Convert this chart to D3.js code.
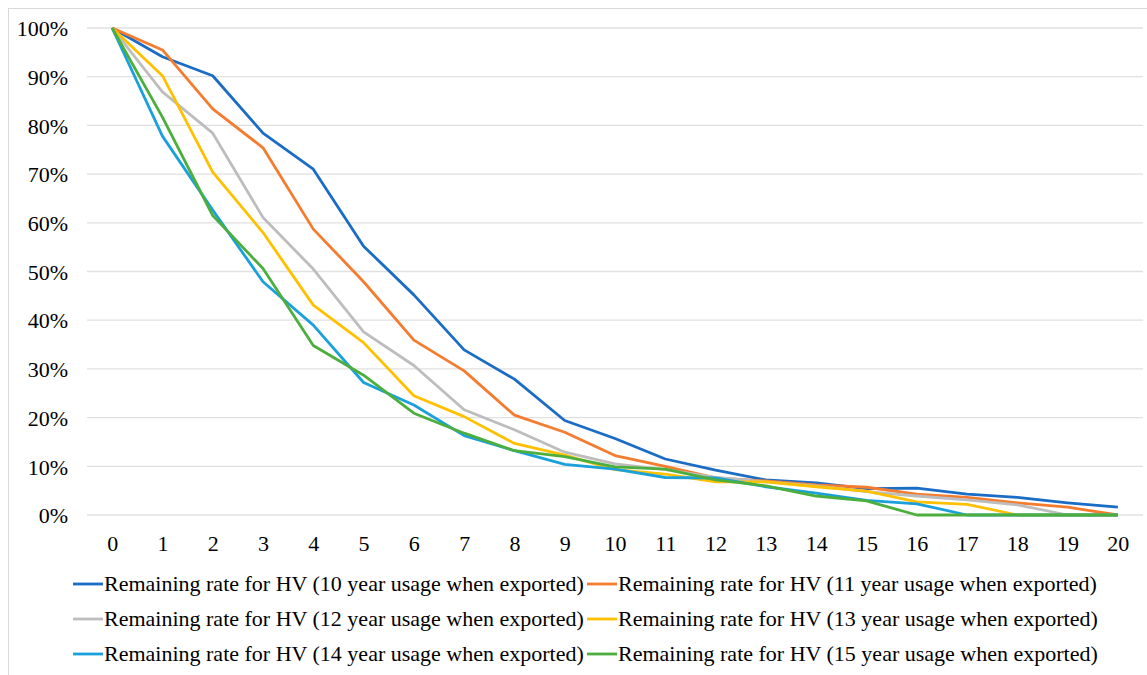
<!DOCTYPE html>
<html>
<head>
<meta charset="utf-8">
<script src="https://cdn.jsdelivr.net/npm/d3@7"></script>
<style>
  html, body { margin: 0; padding: 0; background: #fff; }
  svg { display: block; }
</style>
</head>
<body>
<svg id="chart" width="1147" height="675"></svg>
<script>
const years = d3.range(0, 21).map(String);
const yTicks = [0, 0.1, 0.2, 0.3, 0.4, 0.5, 0.6, 0.7, 0.8, 0.9, 1.0];
const seriesNames = [
  "Remaining rate for HV (10 year usage when exported)",
  "Remaining rate for HV (11 year usage when exported)",
  "Remaining rate for HV (12 year usage when exported)",
  "Remaining rate for HV (13 year usage when exported)",
  "Remaining rate for HV (14 year usage when exported)",
  "Remaining rate for HV (15 year usage when exported)"
];
const hv10 = [100, 94.1, 90.2, 78.4, 71.0, 55.2, 45.2, 33.9, 27.9, 19.4, 15.7, 11.5, 9.2, 7.2, 6.6, 5.4, 5.5, 4.3, 3.6, 2.5, 1.6];
const hv11 = [100, 95.5, 83.4, 75.4, 58.7, 47.9, 35.9, 29.6, 20.5, 17.0, 12.2, 10.0, 7.6, 7.0, 6.2, 5.7, 4.3, 3.6, 2.5, 1.6, 0];
const hv12 = [100, 86.9, 78.4, 61.1, 50.5, 37.6, 30.7, 21.6, 17.5, 12.9, 10.5, 9.3, 7.7, 6.8, 6.0, 4.8, 3.9, 3.1, 2.1, 0, 0];
const hv13 = [100, 90.2, 70.4, 58.0, 43.1, 35.4, 24.5, 20.2, 14.7, 12.3, 9.3, 8.4, 6.8, 6.8, 5.8, 4.9, 2.7, 2.2, 0, 0, 0];
const hv14 = [100, 77.8, 62.6, 47.9, 39.0, 27.2, 22.6, 16.3, 13.2, 10.4, 9.4, 7.7, 7.6, 5.8, 4.5, 3.0, 2.3, 0, 0, 0, 0];
const hv15 = [100, 81.7, 61.5, 50.6, 34.8, 28.7, 20.9, 16.8, 13.2, 12.0, 9.9, 9.4, 7.2, 6.0, 3.9, 2.9, 0, 0, 0, 0, 0];
const seriesValues = [hv10, hv11, hv12, hv13, hv14, hv15];
const colors = ["#1a6cc4", "#f57b2f", "#bdbdbd", "#ffc000", "#1aa0db", "#4caf3d"];

const FONT = '"Liberation Serif"';
const FSIZE = "22px";

const svg = d3.select("#chart");

// outer chart border
svg.append("rect")
  .attr("x", 8.5).attr("y", 8.5)
  .attr("width", 1200).attr("height", 800)
  .attr("fill", "none").attr("stroke", "#d9d9d9").attr("stroke-width", 1);

const plot = { left: 87, right: 1143, top: 28, bottom: 515 };

const x = d3.scalePoint().domain(years).range([plot.left, plot.right]).padding(0.5);
const y = d3.scaleLinear().domain([0, 1]).range([plot.bottom, plot.top]);

// gridlines
svg.append("g")
  .selectAll("line")
  .data(yTicks)
  .join("line")
  .attr("x1", plot.left).attr("x2", plot.right)
  .attr("y1", d => y(d)).attr("y2", d => y(d))
  .attr("stroke", "#e0e0e0").attr("stroke-width", 1.3);

// y axis labels
const yAxis = d3.axisLeft(y).tickValues(yTicks).tickFormat(d3.format(".0%")).tickSize(0).tickPadding(0);
const gy = svg.append("g").attr("transform", `translate(68,0)`).call(yAxis);
gy.select(".domain").remove();
gy.selectAll("text").attr("fill", "#000").attr("dy", "0.35em")
  .style("font-family", FONT).style("font-size", FSIZE);

// x axis labels
const xAxis = d3.axisBottom(x).tickSize(0).tickPadding(0);
const gx = svg.append("g").attr("transform", `translate(0,543)`).call(xAxis);
gx.select(".domain").remove();
gx.selectAll("text").attr("fill", "#000").attr("dy", "0.35em")
  .style("font-family", FONT).style("font-size", FSIZE);

// lines
const line = d3.line().x((d, i) => x(years[i])).y(d => y(d / 100));
svg.append("g")
  .selectAll("path")
  .data(seriesValues)
  .join("path")
  .attr("d", d => line(d))
  .attr("fill", "none")
  .attr("stroke", (d, i) => colors[i])
  .attr("stroke-width", 2.8)
  .attr("stroke-linejoin", "round");

// legend
const legendCols = [73, 587];
const legendRows = [584, 619, 654];
const leg = svg.append("g")
  .selectAll("g")
  .data(seriesNames)
  .join("g")
  .attr("transform", (d, i) => `translate(${legendCols[i % 2]},${legendRows[Math.floor(i / 2)]})`);
leg.append("line")
  .attr("x1", 0).attr("x2", 30).attr("y1", 0).attr("y2", 0)
  .attr("stroke", (d, i) => colors[i]).attr("stroke-width", 2.8);
leg.append("text")
  .attr("x", 31).attr("y", 0).attr("dy", "0.33em")
  .attr("fill", "#000")
  .style("font-family", FONT).style("font-size", FSIZE)
  .text(d => d);
</script>
</body>
</html>
